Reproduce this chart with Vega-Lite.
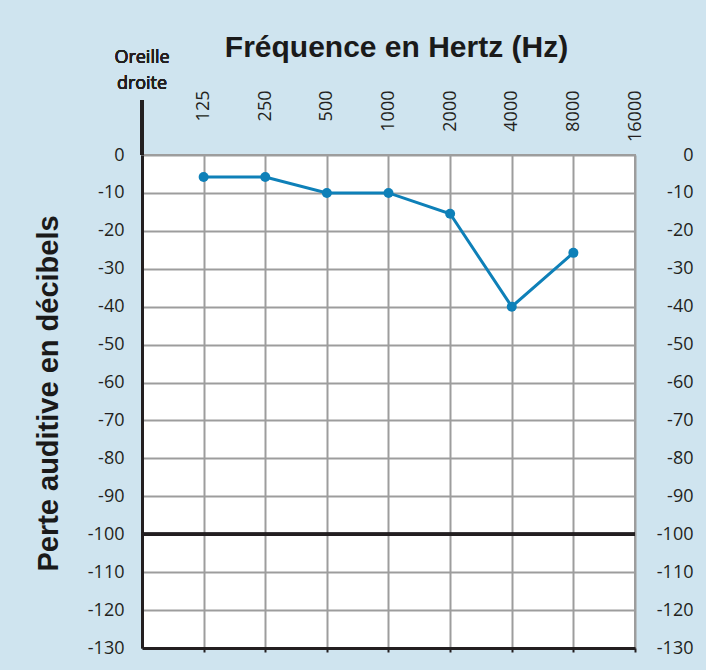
{
  "$schema": "https://vega.github.io/schema/vega-lite/v6.json",
  "width": 493,
  "height": 493,
  "autosize": {"type": "none"},
  "padding": {"left": 142, "top": 155, "right": 71, "bottom": 22},
  "background": "#cfe4ef",
  "config": {
    "view": {"fill": "white", "stroke": "#9d9d9d", "strokeWidth": 2},
    "axis": {
      "labelFont": "Open Sans",
      "labelFontSize": 18,
      "labelColor": "#231f20",
      "gridColor": "#9d9d9d",
      "gridWidth": 2,
      "gridOpacity": 1,
      "labelOverlap": false,
      "labelFlush": false,
      "titleFont": "Liberation Sans",
      "titleFontWeight": "bold",
      "titleColor": "#1a1a1a"
    }
  },
  "data": {
    "values": [
      {"freq": 125, "db": -5.8},
      {"freq": 250, "db": -5.8},
      {"freq": 500, "db": -10},
      {"freq": 1000, "db": -10},
      {"freq": 2000, "db": -15.5},
      {"freq": 4000, "db": -40},
      {"freq": 8000, "db": -25.8}
    ]
  },
  "resolve": {"axis": {"x": "independent", "y": "independent"}},
  "layer": [
    {
      "mark": {"type": "line", "color": "#0e80b8", "strokeWidth": 3},
      "encoding": {
        "x": {
          "field": "freq",
          "type": "quantitative",
          "scale": {"type": "log", "base": 2, "domain": [62.5, 16000], "nice": false},
          "axis": {
            "orient": "top",
            "values": [125, 250, 500, 1000, 2000, 4000, 8000, 16000],
            "labelExpr": "'' + datum.value",
            "labelAngle": 270,
            "labelAlign": "right",
            "labelBaseline": "middle",
            "labelPadding": 65,
            "ticks": false,
            "tickSize": 0,
            "domain": false,
            "grid": true,
            "title": "Fréquence en Hertz (Hz)",
            "titleFontSize": 30,
            "titleBaseline": "alphabetic",
            "titleAlign": "center",
            "titleX": 254,
            "titleY": -99
          }
        },
        "y": {
          "field": "db",
          "type": "quantitative",
          "scale": {"domain": [-130, 0], "nice": false, "zero": false},
          "axis": {
            "orient": "left",
            "values": [0, -10, -20, -30, -40, -50, -60, -70, -80, -90, -100, -110, -120, -130],
            "labelExpr": "'' + datum.value",
            "labelPadding": 18,
            "ticks": false,
            "tickSize": 0,
            "domain": true,
            "domainColor": "#231f20",
            "domainWidth": 3,
            "grid": true,
            "title": "Perte auditive en décibels",
            "titleFontSize": 29,
            "titleAngle": 270,
            "titleBaseline": "alphabetic",
            "titleAlign": "center",
            "titleX": -85,
            "titleY": 238
          }
        }
      }
    },
    {
      "mark": {"type": "point", "filled": true, "opacity": 1, "color": "#0e80b8", "size": 100},
      "encoding": {
        "x": {
          "field": "freq",
          "type": "quantitative",
          "scale": {"type": "log", "base": 2, "domain": [62.5, 16000], "nice": false},
          "axis": {
            "orient": "bottom",
            "values": [125, 250, 500, 1000, 2000, 4000, 8000, 16000],
            "labels": false,
            "ticks": true,
            "tickSize": 4,
            "tickWidth": 2,
            "tickColor": "#231f20",
            "domain": true,
            "domainColor": "#231f20",
            "domainWidth": 3,
            "grid": false,
            "title": null
          }
        },
        "y": {
          "field": "db",
          "type": "quantitative",
          "scale": {"domain": [-130, 0], "nice": false, "zero": false},
          "axis": {
            "orient": "right",
            "values": [0, -10, -20, -30, -40, -50, -60, -70, -80, -90, -100, -110, -120, -130],
            "labelExpr": "'' + datum.value",
            "labelAlign": "right",
            "labelPadding": 58,
            "ticks": false,
            "tickSize": 0,
            "domain": false,
            "grid": false,
            "title": null
          }
        }
      }
    },
    {
      "mark": {"type": "rule", "color": "#231f20", "strokeWidth": 3},
      "encoding": {
        "y": {"datum": -100, "type": "quantitative", "axis": null}
      }
    },
    {
      "mark": {"type": "rule", "color": "#231f20", "strokeWidth": 3},
      "encoding": {
        "x": {"datum": 62.5, "type": "quantitative", "axis": null},
        "y": {"datum": 0, "type": "quantitative", "axis": null},
        "y2": {"datum": 14.5}
      }
    },
    {
      "mark": {
        "type": "text",
        "font": "Open Sans",
        "fontSize": 18,
        "fontWeight": "normal",
        "color": "#231f20",
        "align": "center",
        "baseline": "alphabetic",
        "lineHeight": 26
      },
      "encoding": {
        "x": {"datum": 62.5, "type": "quantitative", "axis": null},
        "y": {"datum": 24.3, "type": "quantitative", "axis": null},
        "text": {"value": ["Oreille", "droite"]}
      }
    }
  ]
}
